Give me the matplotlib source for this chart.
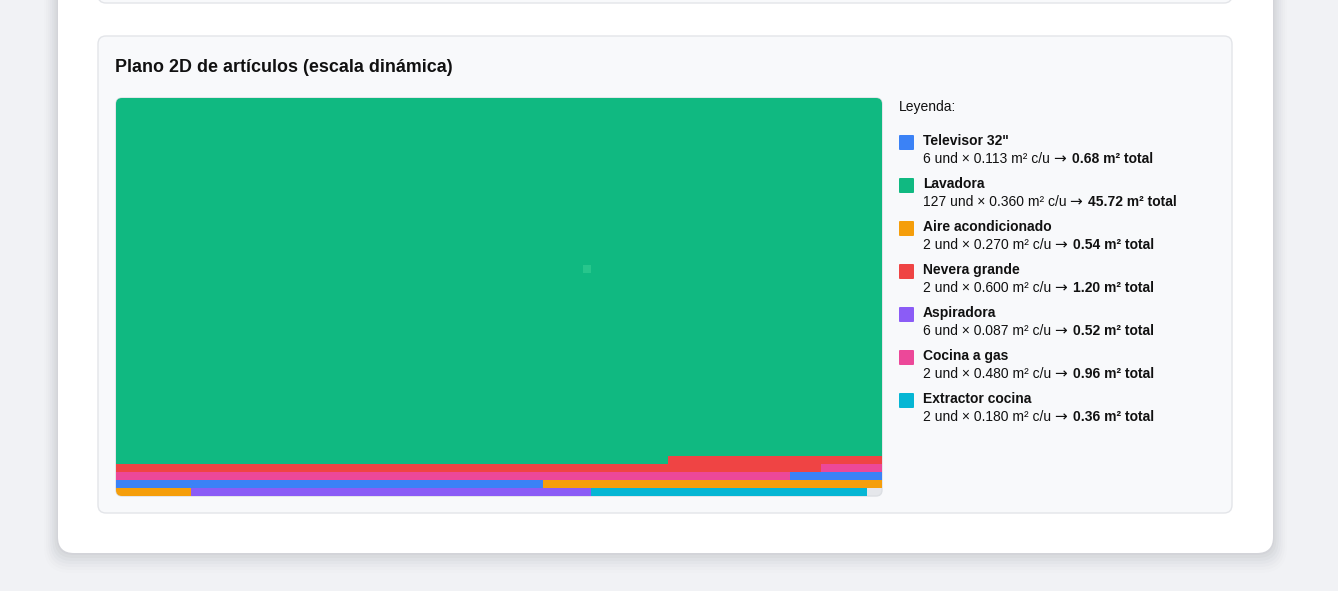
import matplotlib
matplotlib.use("Agg")
import matplotlib.pyplot as plt
from matplotlib.patches import FancyBboxPatch, Rectangle

plt.rcParams['font.family'] = ['Liberation Sans', 'DejaVu Sans']

# items on the plan
names = ["Televisor 32\"", "Lavadora", "Aire acondicionado", "Nevera grande",
         "Aspiradora", "Cocina a gas", "Extractor cocina"]
qty = [6, 127, 2, 2, 6, 2, 2]
unit_area = [0.113, 0.360, 0.270, 0.600, 0.087, 0.480, 0.180]
colors = ["#3b82f6", "#10b981", "#f59e0b", "#ef4444", "#8b5cf6", "#ec4899", "#06b6d4"]

title = "Plano 2D de artículos (escala dinámica)"
row_width = 1.0  # m² per row of the plan

totals = [q * a for q, a in zip(qty, unit_area)]
n_rows = int(-(-sum(totals) // row_width))

W, H = 1338, 591
fig = plt.figure(figsize=(W / 100, H / 100), dpi=100)
fig.patch.set_facecolor("#f1f2f5")

bg = fig.add_axes([0, 0, 1, 1])
bg.set_xlim(0, W)
bg.set_ylim(H, 0)
bg.axis("off")


def rbox(x0, y0, x1, y1, r, **kw):
    p = FancyBboxPatch((x0 + r, y0 + r), x1 - x0 - 2 * r, y1 - y0 - 2 * r,
                       boxstyle="round,pad=%g" % r, **kw)
    bg.add_patch(p)
    return p


# card shadow
for i, a in enumerate([0.03, 0.026, 0.022, 0.018, 0.014, 0.01, 0.007]):
    d = 2 + i * 3
    rbox(58 - d * 0.7, -30, 1273 + d * 0.7, 553 + d, 16 + d * 0.5,
         facecolor="#1f2937", edgecolor="none", alpha=a)
rbox(58, -30, 1273, 553, 16, facecolor="white", edgecolor="none")

# panels
rbox(98, -40, 1232, 3, 8, facecolor="#f8f9fb", edgecolor="#e3e5e9", linewidth=1)
rbox(98, 36, 1232, 513, 8, facecolor="#f8f9fb", edgecolor="#e3e5e9", linewidth=1)

bg.text(115, 67, title, fontsize=12.9, fontweight="bold", color="#111111",
        va="center", ha="left")

# plan area
px0, py0, px1, py1 = 116, 98, 882, 496
plan_bg = rbox(px0, py0, px1, py1, 6, facecolor="#e5e7eb", edgecolor="#dcdfe3",
               linewidth=1, zorder=1)

ax = fig.add_axes([px0 / W, (H - py1) / H, (px1 - px0) / W, (py1 - py0) / H])
ax.set_xlim(0, row_width)
ax.set_ylim(n_rows, 0)
ax.axis("off")
ax.patch.set_alpha(0)

# ribbon fill, largest total first, from top-left, row by row
order = sorted(range(len(names)), key=lambda i: -totals[i])
pos = 0.0
for i in order:
    start, end = pos, pos + totals[i]
    pos = end
    r0, r1 = int(start // row_width), int(end // row_width)
    x0, x1 = start - r0 * row_width, end - r1 * row_width
    rects = []
    if r0 == r1:
        rects.append((x0, r0, x1 - x0, 1))
    else:
        rects.append((x0, r0, row_width - x0, 1))
        if r1 - r0 > 1:
            rects.append((0, r0 + 1, row_width, r1 - r0 - 1))
        if x1 > 0:
            rects.append((0, r1, x1, 1))
    for (x, y, w, h) in rects:
        b = ax.bar(x, h, width=w, bottom=y, align="edge", color=colors[i],
                   linewidth=0, antialiased=False)
        for p in b:
            p.set_clip_path(plan_bg)

# small highlighted cell
hl = Rectangle((0.6095, 21), 0.0104, 1, facecolor="#27c68c", edgecolor="none")
ax.add_patch(hl)

# legend
fs = 10.0
bg.text(899, 107, "Leyenda:", fontsize=fs, color="#111111", va="center", ha="left")
fig.canvas.draw()
rend = fig.canvas.get_renderer()
for k in range(len(names)):
    yc = 141.5 + 43 * k
    bg.add_patch(FancyBboxPatch((900, yc - 5.5), 13, 13, boxstyle="round,pad=1",
                                facecolor=colors[k], edgecolor="none"))
    bg.text(923, yc - 0.5, names[k], fontsize=fs, fontweight="bold", color="#111111",
            va="center", ha="left")
    yd = yc + 17.5
    t = bg.text(923, yd, "%d und × %.3f m² c/u" % (qty[k], unit_area[k]),
                fontsize=fs, color="#111111", va="center", ha="left")
    bb = t.get_window_extent(rend)
    arr = bg.text(bb.x1 + 3, H - yd, "→", fontsize=fs + 1, color="#111111",
                  family="DejaVu Sans", va="center", ha="left", transform=None)
    bb = arr.get_window_extent(rend)
    bg.text(bb.x1 + 6, H - yd, "%.2f m² total" % totals[k], fontsize=fs,
            fontweight="bold", color="#111111", va="center", ha="left",
            transform=None)

fig.savefig("out.png", dpi=100)
